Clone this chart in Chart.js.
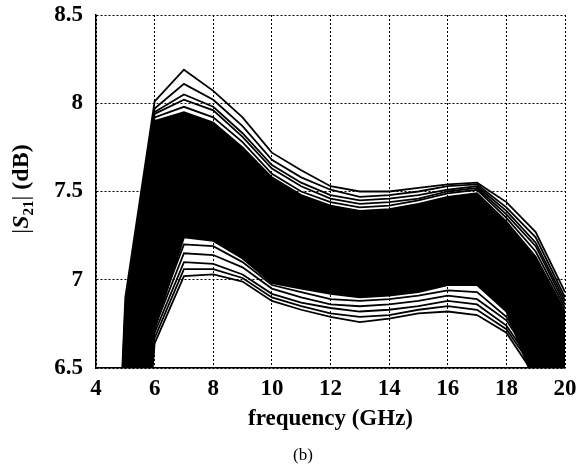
<!DOCTYPE html>
<html>
<head>
<meta charset="utf-8">
<script src="https://cdn.jsdelivr.net/npm/chart.js@4.4.1/dist/chart.umd.min.js"></script>
<style>
  html, body { margin: 0; padding: 0; background: #fff; }
  #wrap { width: 585px; height: 466px; }
</style>
</head>
<body>
<div id="wrap"><canvas id="s21Chart" width="585" height="466"></canvas></div>
<script>
// frequency points (GHz)
const freq = [4, 5, 6, 7, 8, 9, 10, 11, 12, 13, 14, 15, 16, 17, 18, 19, 20];

// outer curves above the dense band
const top1 = [3.0, 6.90, 8.01, 8.19, 8.07, 7.92, 7.72, 7.62, 7.53, 7.50, 7.50, 7.52, 7.54, 7.55, 7.44, 7.27, 6.93];
const top2 = [2.9, 6.85, 7.97, 8.11, 8.02, 7.87, 7.68, 7.58, 7.51, 7.47, 7.48, 7.50, 7.53, 7.54, 7.41, 7.24, 6.90];
const top3 = [2.9, 6.82, 7.95, 8.05, 7.98, 7.83, 7.65, 7.55, 7.48, 7.45, 7.46, 7.48, 7.51, 7.53, 7.39, 7.21, 6.88];
const top4 = [2.8, 6.80, 7.94, 8.02, 7.96, 7.81, 7.63, 7.53, 7.46, 7.43, 7.44, 7.46, 7.50, 7.52, 7.37, 7.19, 6.86];
const top5 = [2.8, 6.78, 7.92, 7.98, 7.92, 7.78, 7.60, 7.50, 7.44, 7.41, 7.42, 7.45, 7.49, 7.51, 7.35, 7.16, 6.84];

// dense band edges
const bandTop    = [2.7, 6.76, 7.90, 7.95, 7.89, 7.75, 7.58, 7.48, 7.42, 7.39, 7.40, 7.43, 7.47, 7.49, 7.33, 7.13, 6.82];
const bandBottom = [1.5, 4.90, 6.72, 7.24, 7.22, 7.12, 6.98, 6.95, 6.92, 6.90, 6.91, 6.93, 6.97, 6.97, 6.82, 6.40, 5.80];

// outer curves below the dense band
const low1 = [1.0, 4.50, 6.64, 7.02, 7.03, 6.99, 6.88, 6.83, 6.79, 6.76, 6.78, 6.81, 6.82, 6.80, 6.70, 6.45, 5.90];
const low2 = [1.1, 4.60, 6.67, 7.06, 7.06, 7.01, 6.90, 6.85, 6.81, 6.79, 6.80, 6.83, 6.85, 6.83, 6.72, 6.48, 5.95];
const low3 = [1.2, 4.70, 6.70, 7.10, 7.09, 7.03, 6.92, 6.87, 6.84, 6.82, 6.83, 6.85, 6.88, 6.86, 6.74, 6.50, 6.00];
const low4 = [1.3, 4.80, 6.73, 7.15, 7.14, 7.07, 6.95, 6.90, 6.86, 6.85, 6.86, 6.88, 6.91, 6.89, 6.77, 6.52, 6.00];
const low5 = [1.4, 4.90, 6.76, 7.20, 7.19, 7.10, 6.97, 6.93, 6.89, 6.88, 6.89, 6.91, 6.94, 6.93, 6.79, 6.53, 6.00];

const xTicks = [4, 6, 8, 10, 12, 14, 16, 18, 20];
const yTicks = [6.5, 7, 7.5, 8, 8.5];

const serif = "'Liberation Serif', 'DejaVu Serif', serif";

function pts(arr) {
  return freq.map((f, i) => ({ x: f, y: arr[i] }));
}

function curve(arr, extra) {
  return Object.assign({
    data: pts(arr),
    borderColor: '#000',
    borderWidth: 1.8,
    pointRadius: 0,
    tension: 0,
    fill: false
  }, extra || {});
}

const datasets = [
  curve(bandTop, { fill: '+1', backgroundColor: '#000' }),
  curve(bandBottom),
  curve(top1), curve(top2), curve(top3), curve(top4), curve(top5),
  curve(low1), curve(low2), curve(low3), curve(low4), curve(low5)
];

// y title with subscript and the (b) caption
const textPlugin = {
  id: 'textPlugin',
  afterDraw(chart) {
    const ctx = chart.ctx;
    ctx.save();
    ctx.fillStyle = '#000';
    ctx.textBaseline = 'alphabetic';
    const parts = [
      { t: '|', f: '24px ' + serif, dy: 0 },
      { t: 'S', f: 'italic bold 24px ' + serif, dy: 0 },
      { t: '21', f: 'bold 15px ' + serif, dy: 5 },
      { t: '|', f: '24px ' + serif, dy: 0 },
      { t: ' (dB)', f: 'bold 24px ' + serif, dy: 0 }
    ];
    let total = 0;
    parts.forEach(p => { ctx.font = p.f; p.w = ctx.measureText(p.t).width; total += p.w; });
    ctx.translate(28, 189);
    ctx.rotate(-Math.PI / 2);
    let x = -total / 2;
    parts.forEach(p => {
      ctx.font = p.f;
      ctx.fillText(p.t, x, p.dy);
      x += p.w;
    });
    ctx.restore();

    ctx.save();
    ctx.fillStyle = '#000';
    ctx.font = '17px ' + serif;
    ctx.textAlign = 'center';
    ctx.textBaseline = 'middle';
    ctx.fillText('(b)', 303, 456);
    ctx.restore();
  }
};

const ctx = document.getElementById('s21Chart').getContext('2d');
const s21Chart = new Chart(ctx, {
  type: 'line',
  data: { datasets: datasets },
  options: {
    responsive: false,
    animation: false,
    layout: { padding: { left: 0, right: 20, top: 15, bottom: 33 } },
    plugins: {
      legend: { display: false },
      tooltip: { enabled: false }
    },
    scales: {
      x: {
        type: 'linear',
        min: 4,
        max: 20,
        afterFit: s => { s.height = 65; },
        afterBuildTicks: s => { s.ticks = xTicks.map(v => ({ value: v })); },
        ticks: {
          color: '#000',
          padding: 7,
          font: { family: serif, size: 23, weight: 'bold' },
          callback: v => String(v)
        },
        grid: { color: '#000', lineWidth: 1, drawTicks: false },
        border: { display: true, color: '#000', width: 1.5, dash: [2, 2] },
        title: {
          display: true,
          text: 'frequency (GHz)',
          color: '#000',
          padding: 0,
          font: { family: serif, size: 23, weight: 'bold' }
        }
      },
      y: {
        min: 6.5,
        max: 8.5,
        afterFit: s => { s.width = 96; s.paddingTop = 0; s.paddingBottom = 0; },
        afterBuildTicks: s => { s.ticks = yTicks.map(v => ({ value: v })); },
        ticks: {
          color: '#000',
          padding: 13,
          font: { family: serif, size: 23, weight: 'bold' },
          callback: v => String(v)
        },
        grid: { color: '#000', lineWidth: 1, drawTicks: false },
        border: { display: true, color: '#000', width: 1.5, dash: [2, 2] }
      }
    }
  },
  plugins: [textPlugin]
});
</script>
</body>
</html>
